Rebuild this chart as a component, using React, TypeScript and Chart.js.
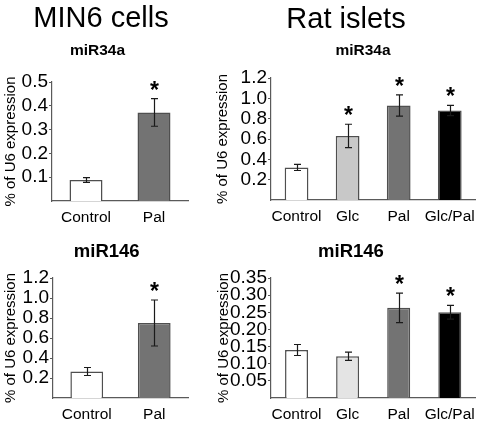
import React, { useEffect, useRef } from 'react';
import { Chart, registerables } from 'chart.js';

Chart.register(...registerables);

const FONT = "'Liberation Sans', Arial, Helvetica, sans-serif";

// ---- data ----
const minCategories = ['Control', 'Pal'];
const ratCategories = ['Control', 'Glc', 'Pal', 'Glc/Pal'];

const min34Values = [0.088, 0.372];
const min34Errors = [0.01, 0.058];
const min34Sig = [false, true];
const min34Ticks = [0.1, 0.2, 0.3, 0.4, 0.5];

const rat34Values = [0.32, 0.63, 0.93, 0.88];
const rat34Errors = [0.03, 0.115, 0.105, 0.05];
const rat34Sig = [false, true, true, true];
const rat34Ticks = [0.2, 0.4, 0.6, 0.8, 1.0, 1.2];

const min146Values = [0.265, 0.75];
const min146Errors = [0.04, 0.23];
const min146Sig = [false, true];
const min146Ticks = [0.2, 0.4, 0.6, 0.8, 1.0, 1.2];

const rat146Values = [0.14, 0.122, 0.263, 0.25];
const rat146Errors = [0.016, 0.012, 0.043, 0.02];
const rat146Sig = [false, false, true, true];
const rat146Ticks = [0.05, 0.1, 0.15, 0.2, 0.25, 0.3, 0.35];

const minColors = ['#ffffff', '#737373'];
const rat34Colors = ['#ffffff', '#c8c8c8', '#737373', '#000000'];
const rat146Colors = ['#ffffff', '#e4e4e4', '#737373', '#000000'];

const yTitle = '% of U6 expression';

// ---- plugins ----
const errorBarPlugin = {
  id: 'errorBars',
  afterDatasetsDraw(chart: any, _args: any, opts: any) {
    const { errors, values, sig } = opts || {};
    if (!errors) return;
    const meta = chart.getDatasetMeta(0);
    const y = chart.scales.y;
    const ctx = chart.ctx;
    ctx.save();
    meta.data.forEach((bar: any, i: number) => {
      const v = values[i];
      const e = errors[i];
      const yt = y.getPixelForValue(v + e);
      const yb = y.getPixelForValue(v - e);
      const x = Math.round(bar.x) + 0.5;
      ctx.strokeStyle = '#1a1a1a';
      ctx.lineWidth = 1.2;
      ctx.beginPath();
      ctx.moveTo(x, yt);
      ctx.lineTo(x, yb);
      ctx.moveTo(x - 3.5, yt);
      ctx.lineTo(x + 3.5, yt);
      ctx.moveTo(x - 3.5, yb);
      ctx.lineTo(x + 3.5, yb);
      ctx.stroke();
      if (sig && sig[i]) {
        ctx.fillStyle = '#000';
        ctx.font = `bold 23px ${FONT}`;
        ctx.textAlign = 'center';
        ctx.textBaseline = 'alphabetic';
        ctx.fillText('*', x, yt - 1);
      }
    });
    ctx.restore();
  },
};

const headingsPlugin = {
  id: 'headings',
  afterDraw(chart: any, _args: any, opts: any) {
    const items = (opts && opts.items) || [];
    const ctx = chart.ctx;
    ctx.save();
    ctx.fillStyle = '#000';
    ctx.textAlign = 'center';
    ctx.textBaseline = 'alphabetic';
    items.forEach((it: any) => {
      ctx.font = it.font;
      ctx.fillText(it.text, it.x, it.y);
    });
    ctx.restore();
  },
};

type PanelProps = {
  left: number;
  top: number;
  width: number;
  height: number;
  categories: string[];
  values: number[];
  errors: number[];
  sig: boolean[];
  colors: string[];
  yMax: number;
  yTicks: number[];
  decimals: number;
  headings: any[];
  padding: any;
  yW: number;
  xH: number;
  barPct: number;
};

function Panel(p: PanelProps) {
  const ref = useRef<HTMLCanvasElement | null>(null);
  useEffect(() => {
    if (!ref.current) return;
    const chart = new Chart(ref.current, {
      type: 'bar',
      data: {
        labels: p.categories,
        datasets: [
          {
            data: p.values,
            backgroundColor: p.colors,
            borderColor: '#4f4f4f',
            borderWidth: 1.5,
            barPercentage: p.barPct,
            categoryPercentage: 1,
          },
        ],
      },
      options: {
        responsive: false,
        animation: false,
        devicePixelRatio: 1,
        layout: { padding: p.padding },
        plugins: {
          legend: { display: false },
          tooltip: { enabled: false },
          title: { display: false },
          errorBars: { values: p.values, errors: p.errors, sig: p.sig },
          headings: { items: p.headings },
        } as any,
        scales: {
          x: {
            grid: { display: false, drawTicks: false, tickLength: 0 },
            border: { display: true, color: '#5a5a5a', width: 1.2 },
            ticks: {
              color: '#000',
              font: { family: FONT, size: 15.5 },
              padding: 7,
              maxRotation: 0,
              autoSkip: false,
            },
            afterFit: (s: any) => {
              s.height = p.xH;
            },
          },
          y: {
            min: 0,
            max: p.yMax,
            afterBuildTicks: (s: any) => {
              s.ticks = p.yTicks.map((v) => ({ value: v }));
            },
            afterFit: (s: any) => {
              s.width = p.yW;
            },
            grid: {
              display: true,
              drawOnChartArea: false,
              drawTicks: true,
              tickLength: 3,
              color: '#5a5a5a',
            },
            border: { display: true, color: '#5a5a5a', width: 1.2 },
            ticks: {
              color: '#000',
              font: { family: FONT, size: 19 },
              padding: 1,
              autoSkip: false,
              callback: (v: any) => Number(v).toFixed(p.decimals),
            },
            title: {
              display: true,
              text: yTitle,
              color: '#000',
              font: { family: FONT, size: 15 },
              padding: { top: 2, bottom: 0 },
            },
          },
        },
      },
      plugins: [errorBarPlugin, headingsPlugin],
    } as any);
    return () => chart.destroy();
  }, []);
  return (
    <canvas
      ref={ref}
      width={p.width}
      height={p.height}
      style={{
        position: 'absolute',
        left: p.left,
        top: p.top,
        width: p.width,
        height: p.height,
      }}
    />
  );
}

export default function App() {
  return (
    <div
      style={{
        position: 'absolute',
        left: 0,
        top: 0,
        width: 482,
        height: 424,
        background: '#ffffff',
        overflow: 'hidden',
      }}
    >
      <Panel
        left={0}
        top={0}
        width={200}
        height={232}
        categories={minCategories}
        values={min34Values}
        errors={min34Errors}
        sig={min34Sig}
        colors={minColors}
        yMax={0.5}
        yTicks={min34Ticks}
        decimals={1}
        headings={[
          { text: 'MIN6 cells', x: 101, y: 27, font: `29px ${FONT}` },
          { text: 'miR34a', x: 97.5, y: 55, font: `bold 15.5px ${FONT}` },
        ]}
        padding={{ top: 82, left: 0, right: 12, bottom: 1 }}
        yW={52}
        xH={30}
        barPct={0.485}
      />
      <Panel
        left={200}
        top={0}
        width={282}
        height={232}
        categories={ratCategories}
        values={rat34Values}
        errors={rat34Errors}
        sig={rat34Sig}
        colors={rat34Colors}
        yMax={1.2}
        yTicks={rat34Ticks}
        decimals={1}
        headings={[
          { text: 'Rat islets', x: 146, y: 28, font: `29px ${FONT}` },
          { text: 'miR34a', x: 163, y: 55, font: `bold 15.5px ${FONT}` },
        ]}
        padding={{ top: 78, left: 12, right: 2, bottom: 2 }}
        yW={59}
        xH={30}
        barPct={0.465}
      />
      <Panel
        left={0}
        top={232}
        width={200}
        height={192}
        categories={minCategories}
        values={min146Values}
        errors={min146Errors}
        sig={min146Sig}
        colors={minColors}
        yMax={1.2}
        yTicks={min146Ticks}
        decimals={1}
        headings={[
          { text: 'miR146', x: 106.7, y: 24.5, font: `bold 18.5px ${FONT}` },
        ]}
        padding={{ top: 46, left: 0, right: 12, bottom: 0 }}
        yW={53}
        xH={26}
        barPct={0.485}
      />
      <Panel
        left={200}
        top={232}
        width={282}
        height={192}
        categories={ratCategories}
        values={rat146Values}
        errors={rat146Errors}
        sig={rat146Sig}
        colors={rat146Colors}
        yMax={0.35}
        yTicks={rat146Ticks}
        decimals={2}
        headings={[
          { text: 'miR146', x: 151, y: 24.5, font: `bold 18.5px ${FONT}` },
        ]}
        padding={{ top: 46, left: 13, right: 2, bottom: 0 }}
        yW={58}
        xH={26}
        barPct={0.45}
      />
    </div>
  );
}
